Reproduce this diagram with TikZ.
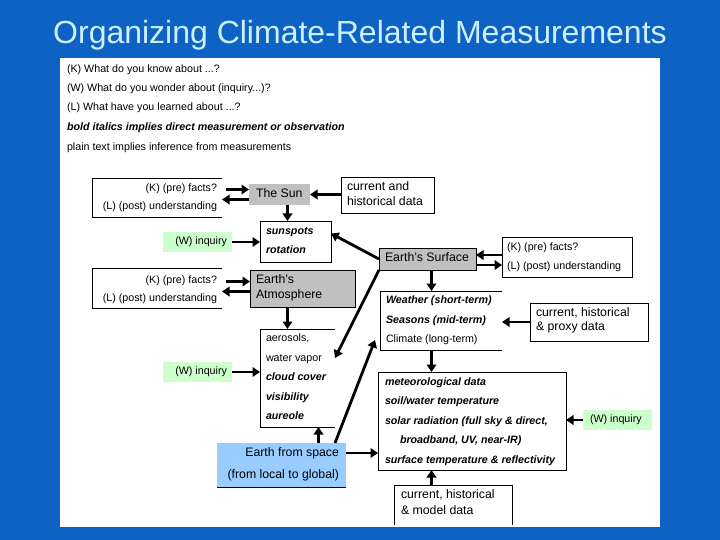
\documentclass[tikz,border=0pt]{standalone}
\usepackage{fontspec}
\setmainfont{Liberation Sans}
\usetikzlibrary{arrows.meta,positioning,calc}
\definecolor{slideblue}{RGB}{14,98,196}
\definecolor{titlecyan}{RGB}{204,240,255}
\definecolor{boxgrey}{RGB}{192,192,192}
\definecolor{inquirygreen}{RGB}{204,255,204}
\definecolor{spaceblue}{RGB}{153,204,255}

\begin{document}
\begin{tikzpicture}[x=1pt,y=-1pt,
    every node/.style={inner sep=0pt,outer sep=0pt},
    txt/.style={font=\fontsize{10.7}{12}\selectfont,text height=.72em,text depth=.22em},
    bi/.style={txt,font=\fontsize{10.7}{12}\selectfont\bfseries\itshape},
    big/.style={font=\fontsize{12.3}{14}\selectfont,text height=.72em,text depth=.22em},
    frame/.style={anchor=north west,draw=black,line width=.8pt},
    hollow/.style={anchor=north west},
    edge/.style={draw=black,line width=.8pt},
    grey/.style={anchor=north west,fill=boxgrey},
    greyframe/.style={grey,draw=black,line width=.8pt},
    inquiry/.style={anchor=north west,fill=inquirygreen,minimum width=69pt,minimum height=20pt},
    link/.style={-{Triangle[length=7.5pt,width=9.5pt]},line width=2.8pt}]

  \useasboundingbox (0,0) rectangle (720,540);
  \fill[slideblue] (0,0) rectangle (720,540);
  \fill[white] (60,58) rectangle (660,527);

  \node[font=\fontsize{32}{35}\selectfont,text=titlecyan] (title) at (360,35) {Organizing Climate-Related Measurements};

  \node[txt,anchor=west] (know) at (67,70) {(K) What do you know about ...?};
  \node[txt,anchor=west] (wonder) at (67,89) {(W) What do you wonder about (inquiry...)?};
  \node[txt,anchor=west] (learned) at (67,108) {(L) What have you learned about ...?};
  \node[bi,anchor=west] (boldkey) at (67,128) {bold italics implies direct measurement or observation};
  \node[txt,anchor=west] (plainkey) at (67,148) {plain text implies inference from measurements};

  % the sun
  \node[hollow,minimum width=130pt,minimum height=39pt] (kl1) at (92,178) {};
  \draw[edge] (kl1.north east) -- (kl1.north west) -- (kl1.south west) -- (kl1.south east);
  \node[txt,anchor=east] (k1) at (217,189) {(K) (pre) facts?};
  \node[txt,anchor=east] (l1) at (217,207) {(L) (post) understanding};
  \node[grey,minimum width=61pt,minimum height=21pt] (sun) at (249,184) {};
  \node[big,anchor=west] (suntxt) at (256,195) {The Sun};
  \node[frame,minimum width=93pt,minimum height=36pt] (data1) at (341,177) {};
  \node[big,anchor=west] (data1a) at (347,188) {current and};
  \node[big,anchor=west] (data1b) at (347,203) {historical data};
  \node[frame,minimum width=71pt,minimum height=41pt] (sunspots) at (260,221) {};
  \node[bi,anchor=west] (spots) at (266,232) {sunspots};
  \node[bi,anchor=west] (rotation) at (266,251) {rotation};
  \node[inquiry] (w1) at (163,232) {};
  \node[txt,anchor=east] (w1txt) at (227,242) {(W) inquiry};

  % earth's surface
  \node[greyframe,minimum width=97pt,minimum height=22pt] (surface) at (379,248) {};
  \node[big,anchor=west] (surftxt) at (385,259) {Earth's Surface};
  \node[frame,minimum width=130pt,minimum height=40pt] (kl3) at (502,237) {};
  \node[txt,anchor=west] (k3) at (507,248) {(K) (pre) facts?};
  \node[txt,anchor=west] (l3) at (507,267) {(L) (post) understanding};
  \node[hollow,minimum width=122pt,minimum height=59pt] (weather) at (380,291) {};
  \draw[edge] (weather.north east) -- (weather.north west) -- (weather.south west) -- (weather.south east);
  \node[bi,anchor=west] (short) at (386,301) {Weather (short-term)};
  \node[bi,anchor=west] (mid) at (386,321) {Seasons (mid-term)};
  \node[txt,anchor=west] (long) at (386,340) {Climate (long-term)};
  \node[frame,minimum width=118pt,minimum height=38pt] (proxy) at (530,303) {};
  \node[big,anchor=west] (proxya) at (536,314) {current, historical};
  \node[big,anchor=west] (proxyb) at (536,328) {\& proxy data};

  % atmosphere
  \node[hollow,minimum width=130pt,minimum height=40pt] (kl2) at (92,268) {};
  \draw[edge] (kl2.north east) -- (kl2.north west) -- (kl2.south west) -- (kl2.south east);
  \node[txt,anchor=east] (k2) at (217,281) {(K) (pre) facts?};
  \node[txt,anchor=east] (l2) at (217,299) {(L) (post) understanding};
  \node[greyframe,minimum width=105pt,minimum height=37pt] (atmo) at (250,270) {};
  \node[big,anchor=west] (atmoa) at (256,281) {Earth's};
  \node[big,anchor=west] (atmob) at (256,296) {Atmosphere};
  \node[hollow,minimum width=75pt,minimum height=98pt] (aerosols) at (260,329) {};
  \draw[edge] (aerosols.north east) -- (aerosols.north west) -- (aerosols.south west) -- (aerosols.south east);
  \node[txt,anchor=west] (aero) at (266,339) {aerosols,};
  \node[txt,anchor=west] (vapor) at (266,359) {water vapor};
  \node[bi,anchor=west] (cloud) at (266,378) {cloud cover};
  \node[bi,anchor=west] (visib) at (266,398) {visibility};
  \node[bi,anchor=west] (aureole) at (266,417) {aureole};
  \node[inquiry] (w2) at (163,362) {};
  \node[txt,anchor=east] (w2txt) at (227,372) {(W) inquiry};

  % from space
  \node[anchor=north west,fill=spaceblue,minimum width=129pt,minimum height=44pt] (space) at (217,443) {};
  \draw[edge] (space.south west) -- (space.south east);
  \node[big,anchor=east] (spacea) at (339,454) {Earth from space};
  \node[big,anchor=east] (spaceb) at (339,476) {(from local to global)};
  \node[frame,minimum width=188pt,minimum height=98pt] (met) at (378,372) {};
  \node[bi,anchor=west] (meteo) at (385,383) {meteorological data};
  \node[bi,anchor=west] (soil) at (385,402) {soil/water temperature};
  \node[bi,anchor=west] (solar) at (385,422) {solar radiation (full sky \& direct,};
  \node[bi,anchor=west] (broad) at (400,441) {broadband, UV, near-IR)};
  \node[bi,anchor=west] (surftemp) at (385,461) {surface temperature \& reflectivity};
  \node[inquiry] (w3) at (583,410) {};
  \node[txt,anchor=west] (w3txt) at (590,420) {(W) inquiry};
  \node[hollow,minimum width=118pt,minimum height=40pt] (model) at (394,485) {};
  \draw[edge] (model.south west) -- (model.north west) -- (model.north east) -- (model.south east);
  \node[big,anchor=west] (modela) at (401,496) {current, historical};
  \node[big,anchor=west] (modelb) at (401,512) {\& model data};

  \coordinate (sunK) at ([yshift=5pt]sun.west);
  \coordinate (sunL) at ([yshift=-5pt]sun.west);
  \coordinate (sundown) at ([xshift=8pt]sun.south);
  \coordinate (surfK) at ([yshift=4pt]surface.east);
  \coordinate (surfL) at ([yshift=-6pt]surface.east);
  \coordinate (spine) at ([xshift=4pt]surface.south);
  \coordinate (atmoK) at ([yshift=7pt]atmo.west);
  \coordinate (atmoL) at ([yshift=-3pt]atmo.west);
  \coordinate (atmodown) at ([xshift=-15pt]atmo.south);
  \coordinate (spaceup) at ([xshift=37pt]space.north);
  \coordinate (spaceout) at ([yshift=12pt]space.east);

  \draw[link] ([xshift=4pt]kl1.east |- sunK) -- (sunK);
  \draw[link] (sunL) -- (kl1.east |- sunL);
  \draw[link] (data1.west |- sun.east) -- (sun.east);
  \draw[link] (sundown) -- (sundown |- sunspots.north);
  \draw[link] (w1.east) -- (sunspots.west |- w1.east);
  \draw[link] (surface.west) -- ([yshift=8pt]sunspots.east);
  \draw[link] (kl3.west |- surfK) -- (surfK);
  \draw[link] (surfL) -- (kl3.west |- surfL);
  \draw[link] (spine) -- (spine |- weather.north);
  \draw[link] (proxy.west) -- (weather.east |- proxy.west);
  \draw[link] (spine |- weather.south) -- (spine |- met.north);
  \draw[link] ([xshift=4pt]kl2.east |- atmoK) -- (atmoK);
  \draw[link] (atmoL) -- (kl2.east |- atmoL);
  \draw[link] (atmodown) -- (atmodown |- aerosols.north);
  \draw[link] (surface.south west) -- ([yshift=20pt]aerosols.east);
  \draw[link] (w2.east) -- (aerosols.west |- w2.east);
  \draw[link] (spaceup) -- (spaceup |- aerosols.south);
  \draw[link] ([xshift=-11pt]space.north east) -- ([shift={(-5pt,10pt)}]weather.south west);
  \draw[link] (spaceout) -- (met.west |- spaceout);
  \draw[link] (w3.west) -- (met.east |- w3.west);
  \draw[link] (spine |- model.north) -- (spine |- met.south);
\end{tikzpicture}
\end{document}
